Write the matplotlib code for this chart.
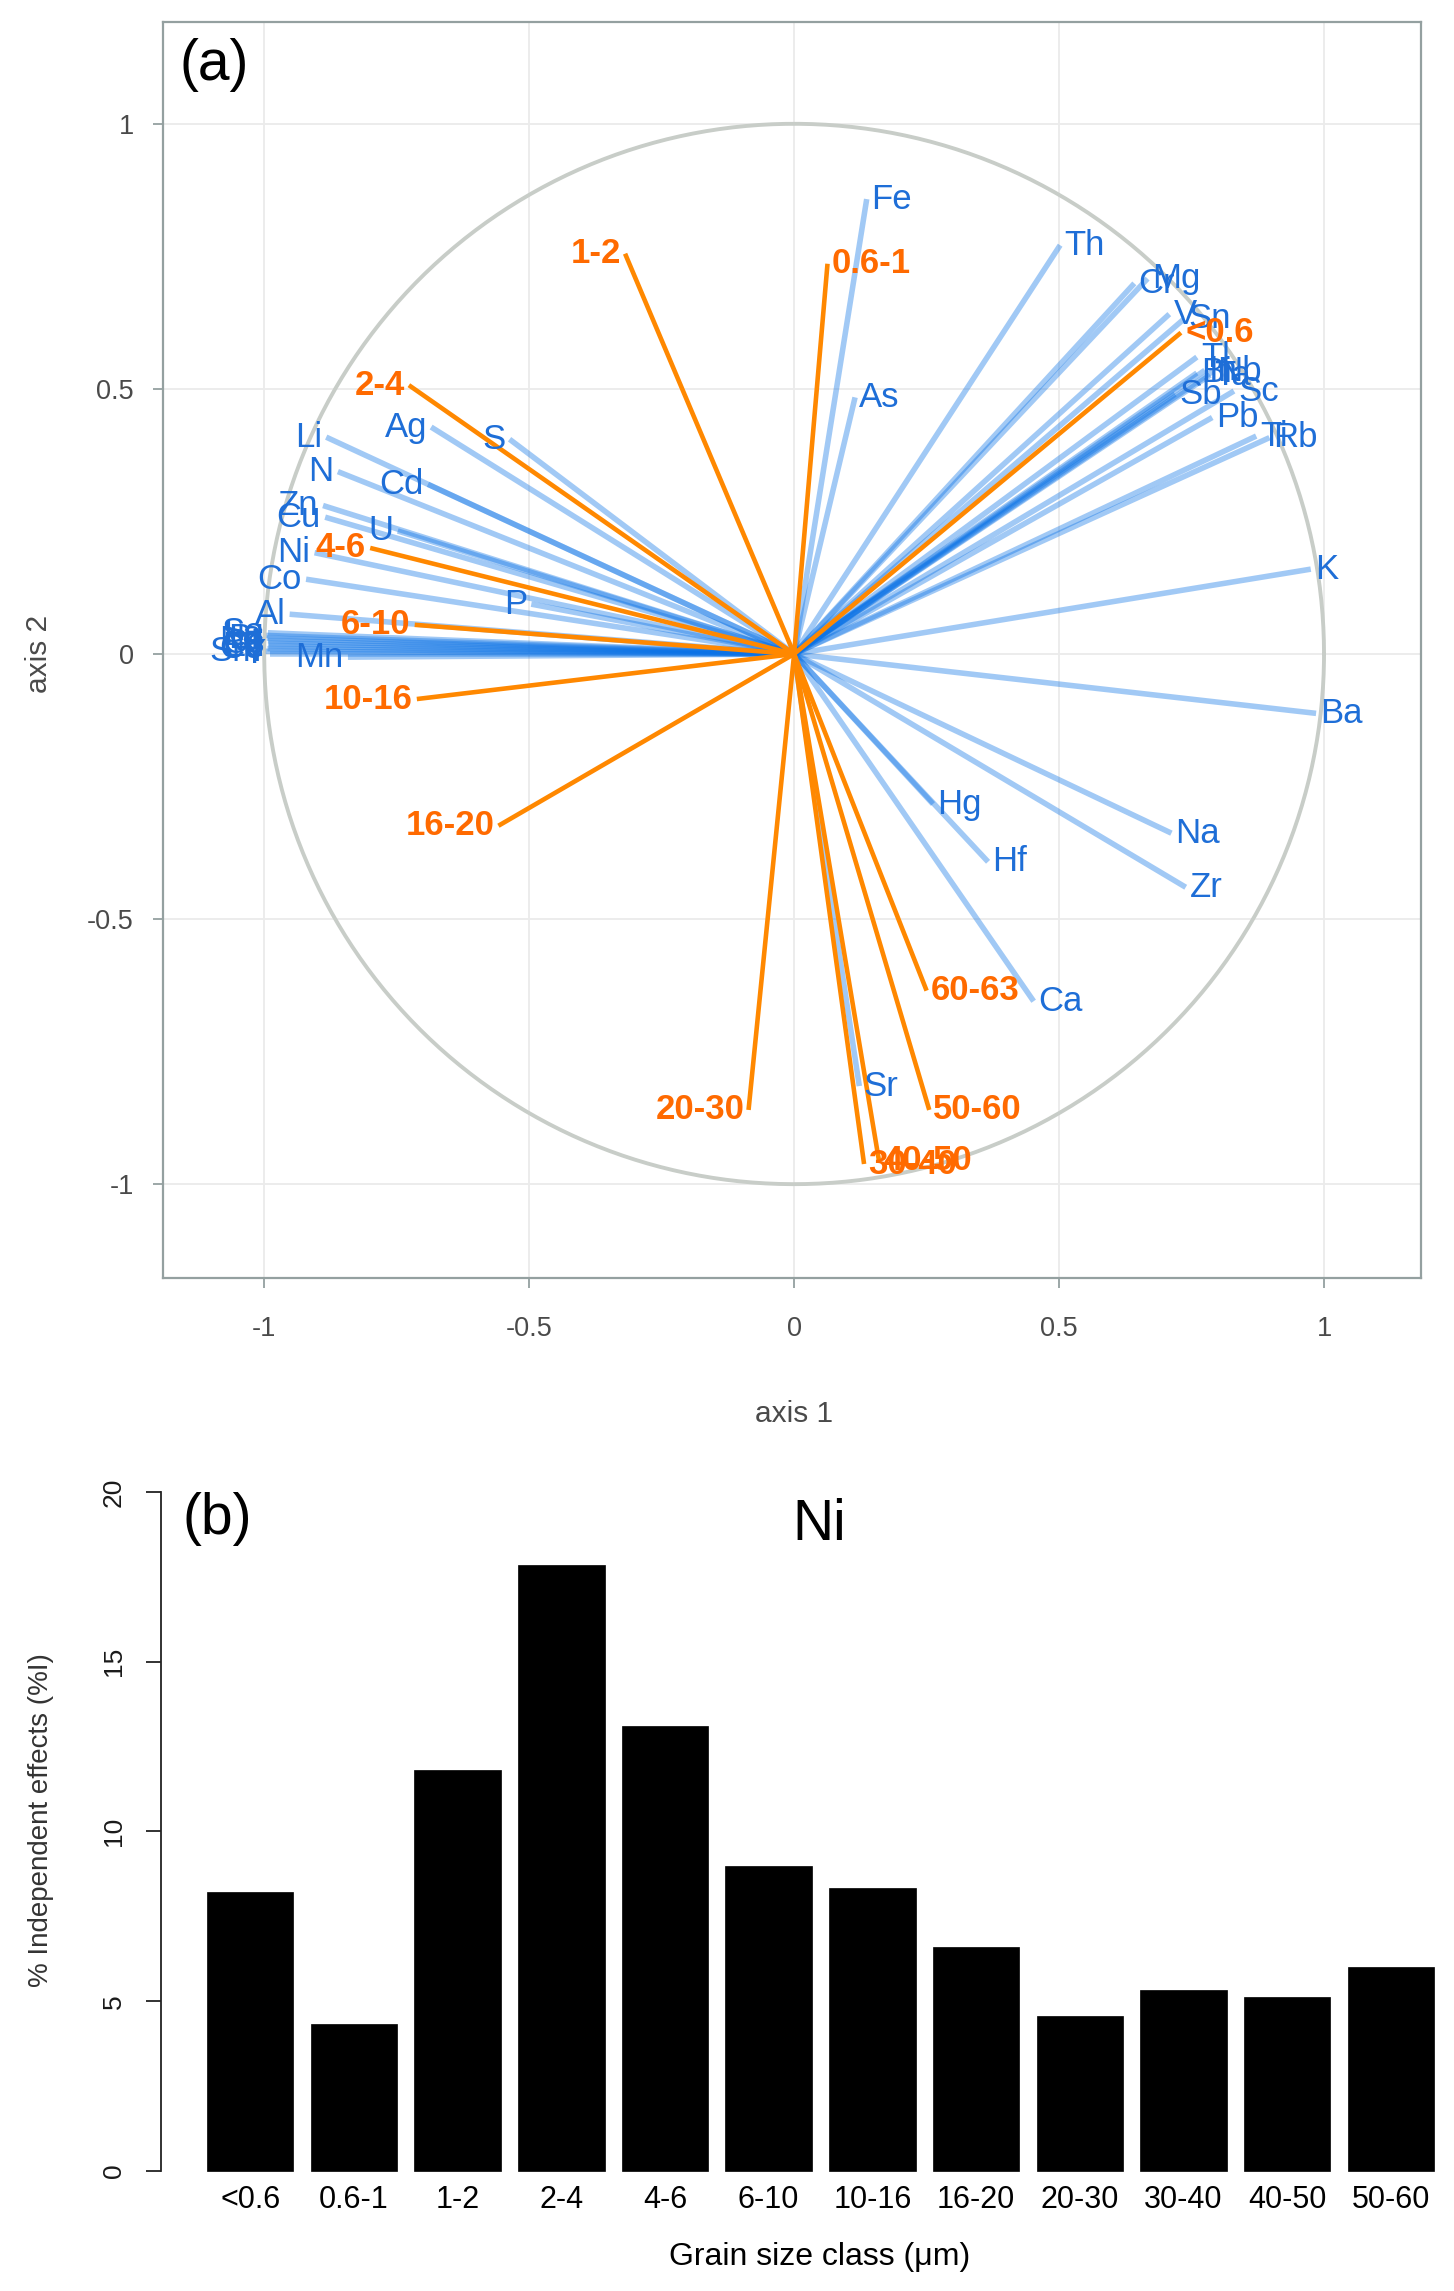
import numpy as np
import matplotlib.pyplot as plt

plt.rcParams['font.family'] = ['Liberation Sans', 'DejaVu Sans']

# ---- (a) correlation circle: element vectors ----
elements = ['Fe', 'As', 'Th', 'Mg', 'Cr', 'V', 'Sn', 'Tl', 'Bi', 'In', 'Nb', 'Ta',
            'Sc', 'Sb', 'Pb', 'Ti', 'Rb', 'K', 'Ba', 'Na', 'Zr', 'Hg', 'Hf', 'Ca',
            'Sr', 'Li', 'Ag', 'S', 'N', 'Cd', 'Zn', 'Cu', 'U', 'Ni', 'Co', 'P',
            'Al', 'Mn', 'Se', 'Br', 'Cs', 'La', 'Ce', 'Nd', 'Sm', 'Eu', 'Y']
elem_x = [0.137, 0.115, 0.502, 0.667, 0.642, 0.708, 0.736, 0.760, 0.760, 0.775,
          0.790, 0.785, 0.830, 0.719, 0.789, 0.872, 0.897, 0.975, 0.985, 0.712,
          0.739, 0.262, 0.366, 0.452, 0.123, -0.883, -0.685, -0.537, -0.861,
          -0.691, -0.889, -0.885, -0.748, -0.905, -0.921, -0.496, -0.952, -0.842,
          -0.993, -0.995, -0.992, -0.996, -0.994, -0.993, -0.997, -0.992, -0.990]
elem_y = [0.858, 0.484, 0.771, 0.708, 0.699, 0.641, 0.632, 0.560, 0.530, 0.535,
          0.533, 0.526, 0.496, 0.490, 0.446, 0.411, 0.408, 0.160, -0.112, -0.338,
          -0.440, -0.283, -0.392, -0.655, -0.815, 0.409, 0.428, 0.405, 0.344,
          0.320, 0.280, 0.258, 0.232, 0.191, 0.141, 0.094, 0.075, -0.006,
          0.040, 0.030, 0.020, 0.035, 0.010, 0.025, 0.005, 0.015, 0.000]

# grain size class vectors
classes = ['<0.6', '0.6-1', '1-2', '2-4', '4-6', '6-10', '10-16', '16-20',
           '20-30', '30-40', '40-50', '50-60', '60-63']
class_x = [0.730, 0.063, -0.319, -0.727, -0.800, -0.716, -0.712, -0.558,
           -0.086, 0.132, 0.160, 0.255, 0.250]
class_y = [0.606, 0.736, 0.755, 0.507, 0.200, 0.055, -0.085, -0.324,
           -0.860, -0.962, -0.955, -0.860, -0.635]

# ---- (b) independent effects for Ni ----
bar_classes = ['<0.6', '0.6-1', '1-2', '2-4', '4-6', '6-10', '10-16', '16-20',
               '20-30', '30-40', '40-50', '50-60']
ni_effects = [8.22, 4.33, 11.82, 17.84, 13.10, 8.97, 8.33, 6.60, 4.58, 5.33, 5.12, 6.01]

W, H = 1454, 2291
fig = plt.figure(figsize=(W / 100, H / 100), dpi=100)

# panel (a)
ax = fig.add_axes([163 / W, 1 - 1278 / H, (1421 - 163) / W, (1278 - 22) / H])
ax.set_xlim(-1.191, 1.183)
ax.set_ylim(-1.177, 1.192)
ticks = [-1, -0.5, 0, 0.5, 1]
tick_labels = ['-1', '-0.5', '0', '0.5', '1']
ax.set_xticks(ticks, tick_labels)
ax.set_yticks(ticks, tick_labels)
ax.grid(color='#ebebeb', lw=1.3, zorder=0)
ax.set_axisbelow(True)
for sp in ax.spines.values():
    sp.set_color('#94a0a0')
    sp.set_linewidth(1.6)
ax.tick_params(axis='both', length=7, width=1.3, color='#94a0a0',
               labelsize=19.5, labelcolor='#4a4a4a')
ax.tick_params(axis='x', pad=20)
ax.tick_params(axis='y', pad=14)

theta = np.linspace(0, 2 * np.pi, 500)
ax.plot(np.cos(theta), np.sin(theta), color='#c8cdc8', lw=2.8, zorder=1)

for x, y in zip(elem_x, elem_y):
    ax.plot([0, x], [0, y], color='#0a72e6', alpha=0.38, lw=4.0,
            solid_capstyle='butt', zorder=2)
for x, y in zip(class_x, class_y):
    ax.plot([0, x], [0, y], color='#ff8800', lw=3.3, solid_capstyle='butt', zorder=3)


def put_label(name, x, y, color, weight):
    right = x >= 0
    ax.annotate(name, (x, y), xytext=(3 if right else -3, 0),
                textcoords='offset points', ha='left' if right else 'right',
                va='center', fontsize=25, color=color, fontweight=weight, zorder=5)


for name, x, y in zip(elements, elem_x, elem_y):
    put_label(name, x, y, '#1e6ed7', 'normal')
for name, x, y in zip(classes, class_x, class_y):
    put_label(name, x, y, '#ff6a00', 'bold')

ax.text(0.013, 0.966, '(a)', transform=ax.transAxes, ha='left', va='center',
        fontsize=41, color='black')
fig.text(794 / W, 1 - 1414 / H, 'axis 1', ha='center', va='center',
         fontsize=21.5, color='#4a4a4a')
fig.text(39 / W, 1 - 654 / H, 'axis 2', ha='center', va='center',
         fontsize=21.5, color='#4a4a4a', rotation=90)

# panel (b)
ax2 = fig.add_axes([160.7 / W, 1 - 2181.2 / H, (W - 160.7) / W, (2181.2 - 1464.8) / H])
pos = [0.7 + 1.2 * i for i in range(len(bar_classes))]
ax2.bar(pos, ni_effects, width=1.0, color='black', edgecolor='black', lw=0.5)
ax2.set_xlim(-0.336, 14.631)
ax2.set_ylim(-0.3, 20.8)
for s in ['top', 'right', 'bottom']:
    ax2.spines[s].set_visible(False)
ax2.spines['left'].set_bounds(0, 20)
ax2.spines['left'].set_color('#222222')
ax2.spines['left'].set_linewidth(1.3)
ax2.set_yticks([0, 5, 10, 15, 20])
ax2.tick_params(axis='y', length=11, width=1.3, color='#222222',
                labelsize=19, labelcolor='#1a1a1a', pad=14)
for lab in ax2.get_yticklabels():
    lab.set_rotation(90)
    lab.set_va('center')
ax2.set_xticks(pos, bar_classes)
ax2.tick_params(axis='x', length=0, labelsize=22, pad=3)

fig.text(182 / W, 1 - 1519 / H, '(b)', ha='left', va='center', fontsize=41)
fig.text(819 / W, 1 - 1525 / H, 'Ni', ha='center', va='center', fontsize=41)
fig.text(820 / W, 1 - 2257 / H, 'Grain size class (μm)', ha='center', va='center',
         fontsize=23)
fig.text(41 / W, 1 - 1820 / H, '% Independent effects (%I)', ha='center',
         va='center', fontsize=20, rotation=90, color='#333333')

fig.savefig('out.png', dpi=100)
